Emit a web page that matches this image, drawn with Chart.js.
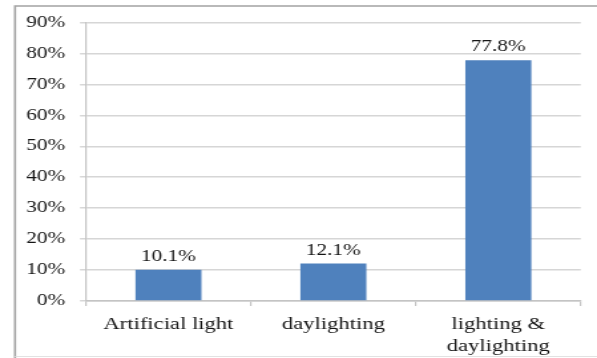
<!DOCTYPE html>
<html>
<head>
<meta charset="utf-8">
<script src="https://cdn.jsdelivr.net/npm/chart.js@4.4.1/dist/chart.umd.min.js"></script>
<style>
  html, body { margin: 0; padding: 0; background: #ffffff; overflow: hidden; }
  /* the figure is laid out narrow and widened horizontally */
  #wrap { position: absolute; left: 0; top: 0; width: 449px; height: 358px;
          transform: scaleX(1.3296); transform-origin: 0 0; }
</style>
</head>
<body>
<div id="wrap"><canvas id="chart"></canvas></div>
<script>
// Share of respondents by lighting source
const categories = ["Artificial light", "daylighting", ["lighting &", "daylighting"]];
const shares = [10.1, 12.1, 77.8];
const shareLabels = ["10.1%", "12.1%", "77.8%"];
const yMax = 90;
const yStep = 10;

const SERIF = '"Liberation Serif", "Times New Roman", serif';
const TEXT = '#141414';

// frame around the figure
const framePlugin = {
  id: 'frame',
  beforeDraw(chart) {
    const ctx = chart.ctx;
    const w = chart.width;
    ctx.save();
    ctx.strokeStyle = '#a3a3a3';
    ctx.lineWidth = 1.6;
    ctx.beginPath();
    ctx.moveTo(11.3, 358);
    ctx.lineTo(11.3, 6);
    ctx.lineTo(w, 6);
    ctx.stroke();
    ctx.strokeStyle = '#e2e2e2';
    ctx.lineWidth = 1;
    ctx.beginPath();
    ctx.moveTo(11.3, 356.5);
    ctx.lineTo(w, 356.5);
    ctx.stroke();
    ctx.restore();
  }
};

// value labels above each bar
const valueLabelPlugin = {
  id: 'valueLabels',
  afterDatasetsDraw(chart) {
    const ctx = chart.ctx;
    const meta = chart.getDatasetMeta(0);
    ctx.save();
    ctx.font = '16px ' + SERIF;
    ctx.fillStyle = TEXT;
    ctx.textAlign = 'center';
    ctx.textBaseline = 'alphabetic';
    meta.data.forEach((bar, i) => {
      ctx.fillText(shareLabels[i], bar.x, bar.y - 9);
    });
    ctx.restore();
  }
};

new Chart(document.getElementById('chart'), {
  type: 'bar',
  data: {
    labels: categories,
    datasets: [{
      data: shares,
      backgroundColor: '#4f81bd',
      borderWidth: 0,
      categoryPercentage: 1.0,
      barPercentage: 0.4
    }]
  },
  options: {
    responsive: true,
    maintainAspectRatio: false,
    animation: false,
    events: [],
    layout: { padding: { left: 0, right: 12.2, top: 22.5, bottom: 0 } },
    plugins: { legend: { display: false }, tooltip: { enabled: false } },
    scales: {
      x: {
        offset: true,
        grid: {
          offset: true,
          drawOnChartArea: false,
          drawTicks: true,
          tickLength: 5,
          color: '#c4c4c4',
          lineWidth: 1.2
        },
        border: { display: true, color: '#c4c4c4', width: 1.5 },
        ticks: {
          color: TEXT,
          font: { family: SERIF, size: 17, lineHeight: 1.3 },
          padding: 7,
          maxRotation: 0,
          autoSkip: false
        },
        afterFit(scale) { scale.height = 57; }
      },
      y: {
        min: 0,
        max: yMax,
        grid: {
          color: '#d6d6d6',
          lineWidth: 1.5,
          drawTicks: true,
          tickLength: 4.5
        },
        border: { display: true, color: '#c4c4c4', width: 1.2 },
        ticks: {
          stepSize: yStep,
          color: TEXT,
          font: { family: SERIF, size: 16 },
          padding: 11,
          callback: (v) => v + '%'
        },
        afterFit(scale) { scale.width = 64.66; }
      }
    }
  },
  plugins: [framePlugin, valueLabelPlugin]
});
</script>
</body>
</html>
